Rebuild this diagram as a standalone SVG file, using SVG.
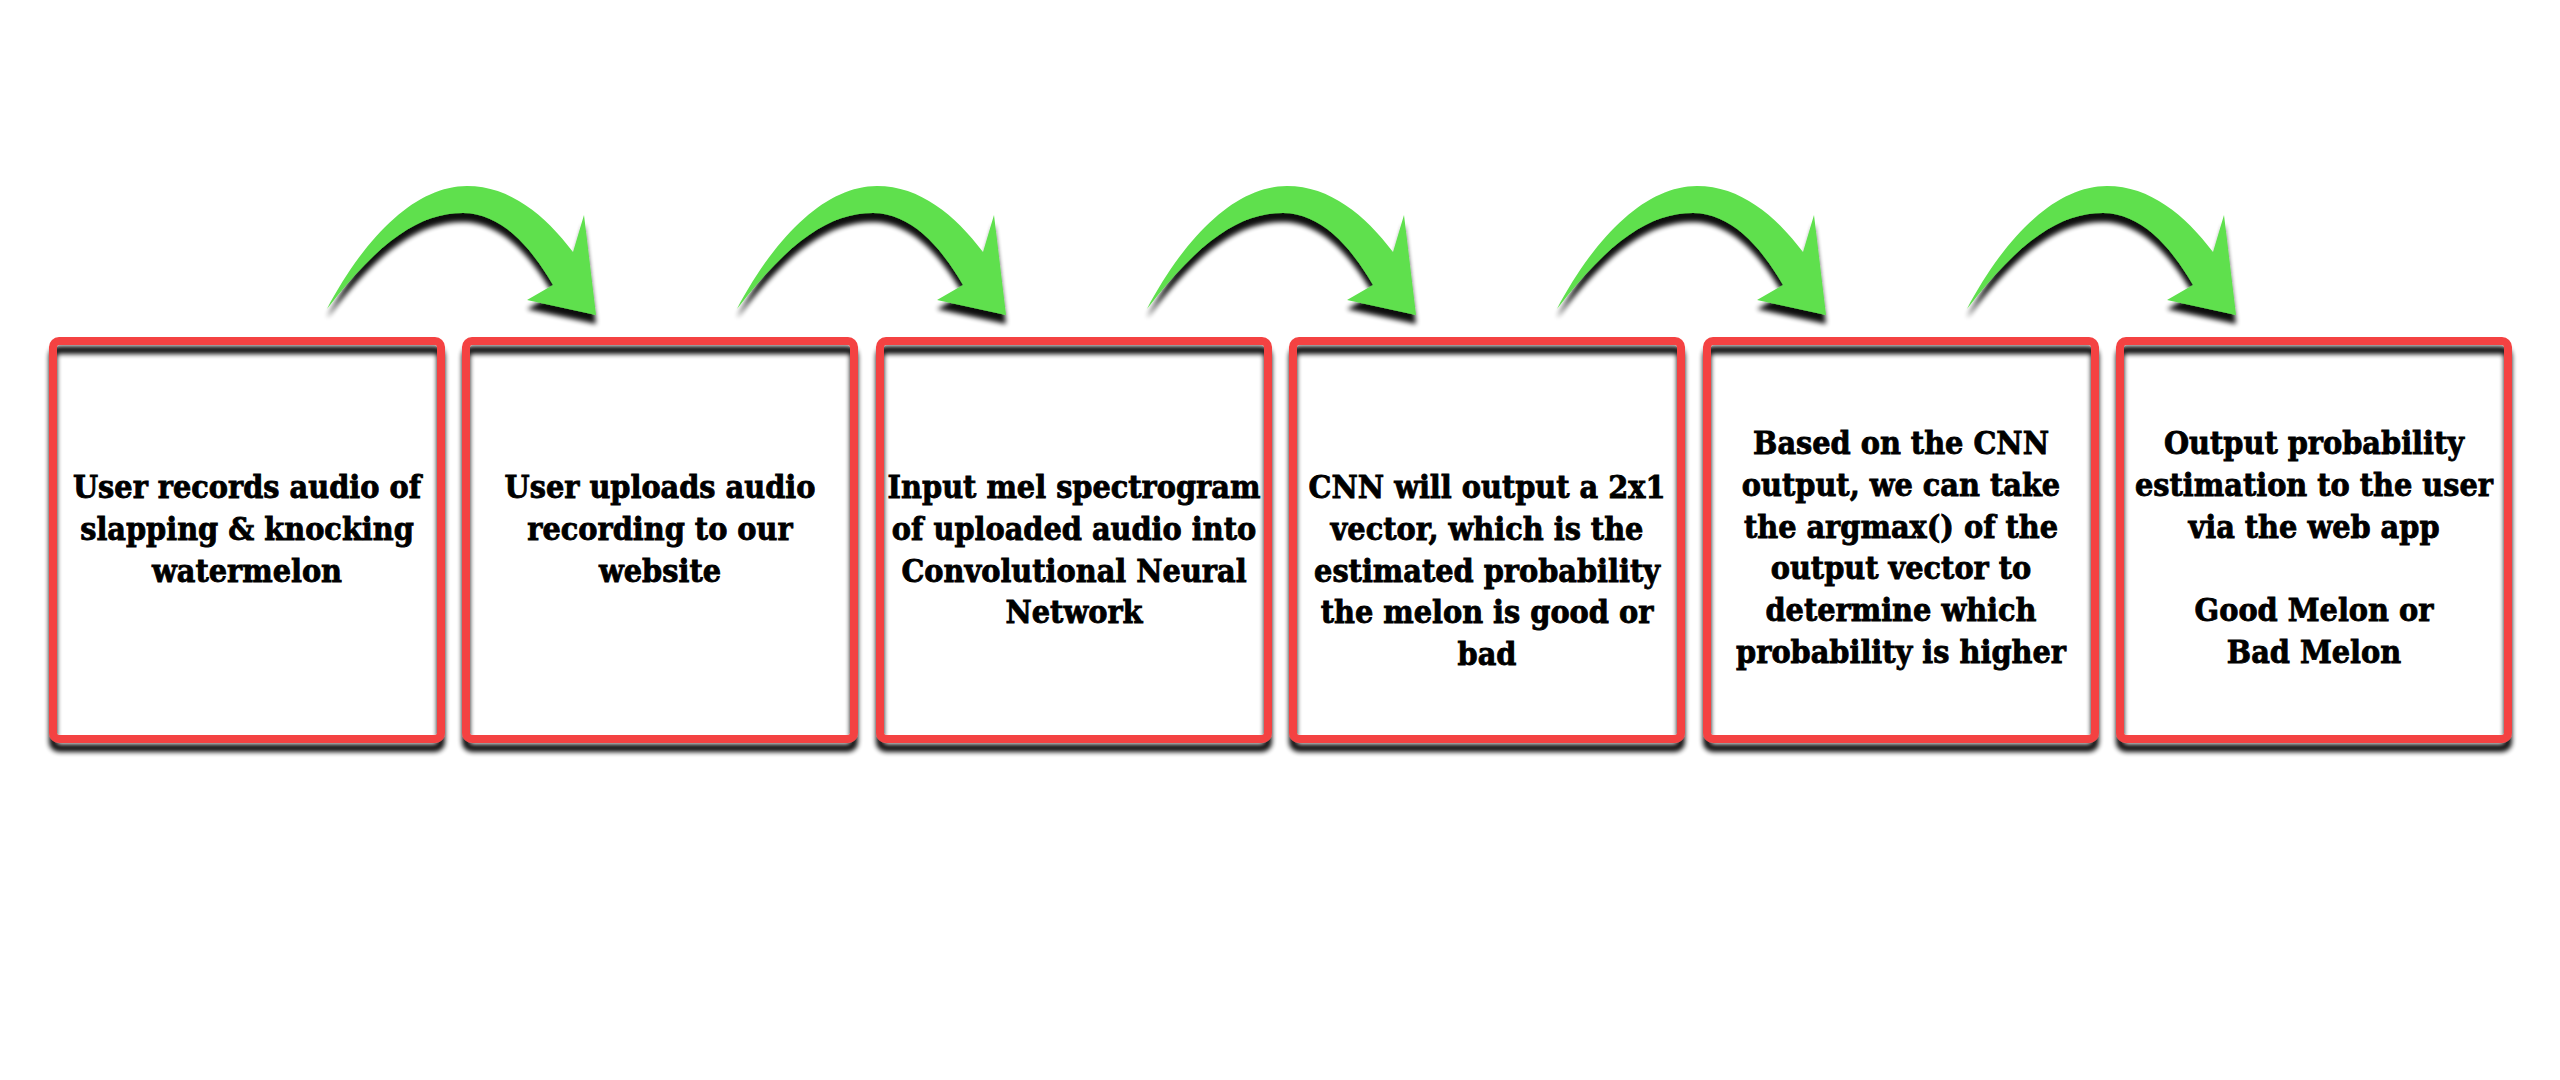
<svg xmlns="http://www.w3.org/2000/svg" xmlns:xlink="http://www.w3.org/1999/xlink" width="2560" height="1080" viewBox="0 0 2560 1080">
<style>
.box{fill:none;stroke:#f44343;stroke-width:8}
.lbl{font-family:"DejaVu Serif Condensed","DejaVu Serif",serif;font-stretch:condensed;font-weight:bold;font-size:32px;fill:#000;stroke:#000;stroke-width:0.8;text-anchor:middle}
.arr{fill:#5ee04d}
</style>
<defs>
<filter id="sh" x="-10%" y="-10%" width="120%" height="130%">
<feGaussianBlur in="SourceAlpha" stdDeviation="2.5"/>
<feOffset dx="0" dy="9" result="b"/>
<feComponentTransfer><feFuncA type="linear" slope="0.95"/></feComponentTransfer>
<feMerge><feMergeNode/><feMergeNode in="SourceGraphic"/></feMerge>
</filter>
<path id="arrow" class="arr" d="M327,309 C368,232 418,186 467,186 C510,186 545,215 573,252 L584,215 L596,315 L527,300 L553,285 C530,245 500,213 463,213 C420,213 380,240 327,309 Z"/>
</defs>
<rect width="2560" height="1080" fill="#fff"/>
<g id="connectors" filter="url(#sh)">
<use xlink:href="#arrow"/>
<use xlink:href="#arrow" transform="translate(410,0)"/>
<use xlink:href="#arrow" transform="translate(820,0)"/>
<use xlink:href="#arrow" transform="translate(1230,0)"/>
<use xlink:href="#arrow" transform="translate(1640,0)"/>
</g>
<g id="node1">
<rect class="box" x="53" y="341" width="388" height="398" rx="6" filter="url(#sh)"/>
<text class="lbl"><tspan x="247" y="498">User records audio of</tspan><tspan x="247" y="540">slapping &amp; knocking</tspan><tspan x="247" y="582">watermelon</tspan></text>
</g>
<g id="node2">
<rect class="box" x="466" y="341" width="388" height="398" rx="6" filter="url(#sh)"/>
<text class="lbl"><tspan x="660" y="498">User uploads audio</tspan><tspan x="660" y="540">recording to our</tspan><tspan x="660" y="582">website</tspan></text>
</g>
<g id="node3">
<rect class="box" x="880" y="341" width="388" height="398" rx="6" filter="url(#sh)"/>
<text class="lbl"><tspan x="1074" y="498">Input mel spectrogram</tspan><tspan x="1074" y="540">of uploaded audio into</tspan><tspan x="1074" y="582">Convolutional Neural</tspan><tspan x="1074" y="623">Network</tspan></text>
</g>
<g id="node4">
<rect class="box" x="1293" y="341" width="388" height="398" rx="6" filter="url(#sh)"/>
<text class="lbl"><tspan x="1487" y="498">CNN will output a 2x1</tspan><tspan x="1487" y="540">vector, which is the</tspan><tspan x="1487" y="582">estimated probability</tspan><tspan x="1487" y="623">the melon is good or</tspan><tspan x="1487" y="665">bad</tspan></text>
</g>
<g id="node5">
<rect class="box" x="1707" y="341" width="388" height="398" rx="6" filter="url(#sh)"/>
<text class="lbl"><tspan x="1901" y="454">Based on the CNN</tspan><tspan x="1901" y="496">output, we can take</tspan><tspan x="1901" y="538">the argmax() of the</tspan><tspan x="1901" y="579">output vector to</tspan><tspan x="1901" y="621">determine which</tspan><tspan x="1901" y="663">probability is higher</tspan></text>
</g>
<g id="node6">
<rect class="box" x="2120" y="341" width="388" height="398" rx="6" filter="url(#sh)"/>
<text class="lbl"><tspan x="2314" y="454">Output probability</tspan><tspan x="2314" y="496">estimation to the user</tspan><tspan x="2314" y="538">via the web app</tspan><tspan x="2314" y="621">Good Melon or</tspan><tspan x="2314" y="663">Bad Melon</tspan></text>
</g>
</svg>
